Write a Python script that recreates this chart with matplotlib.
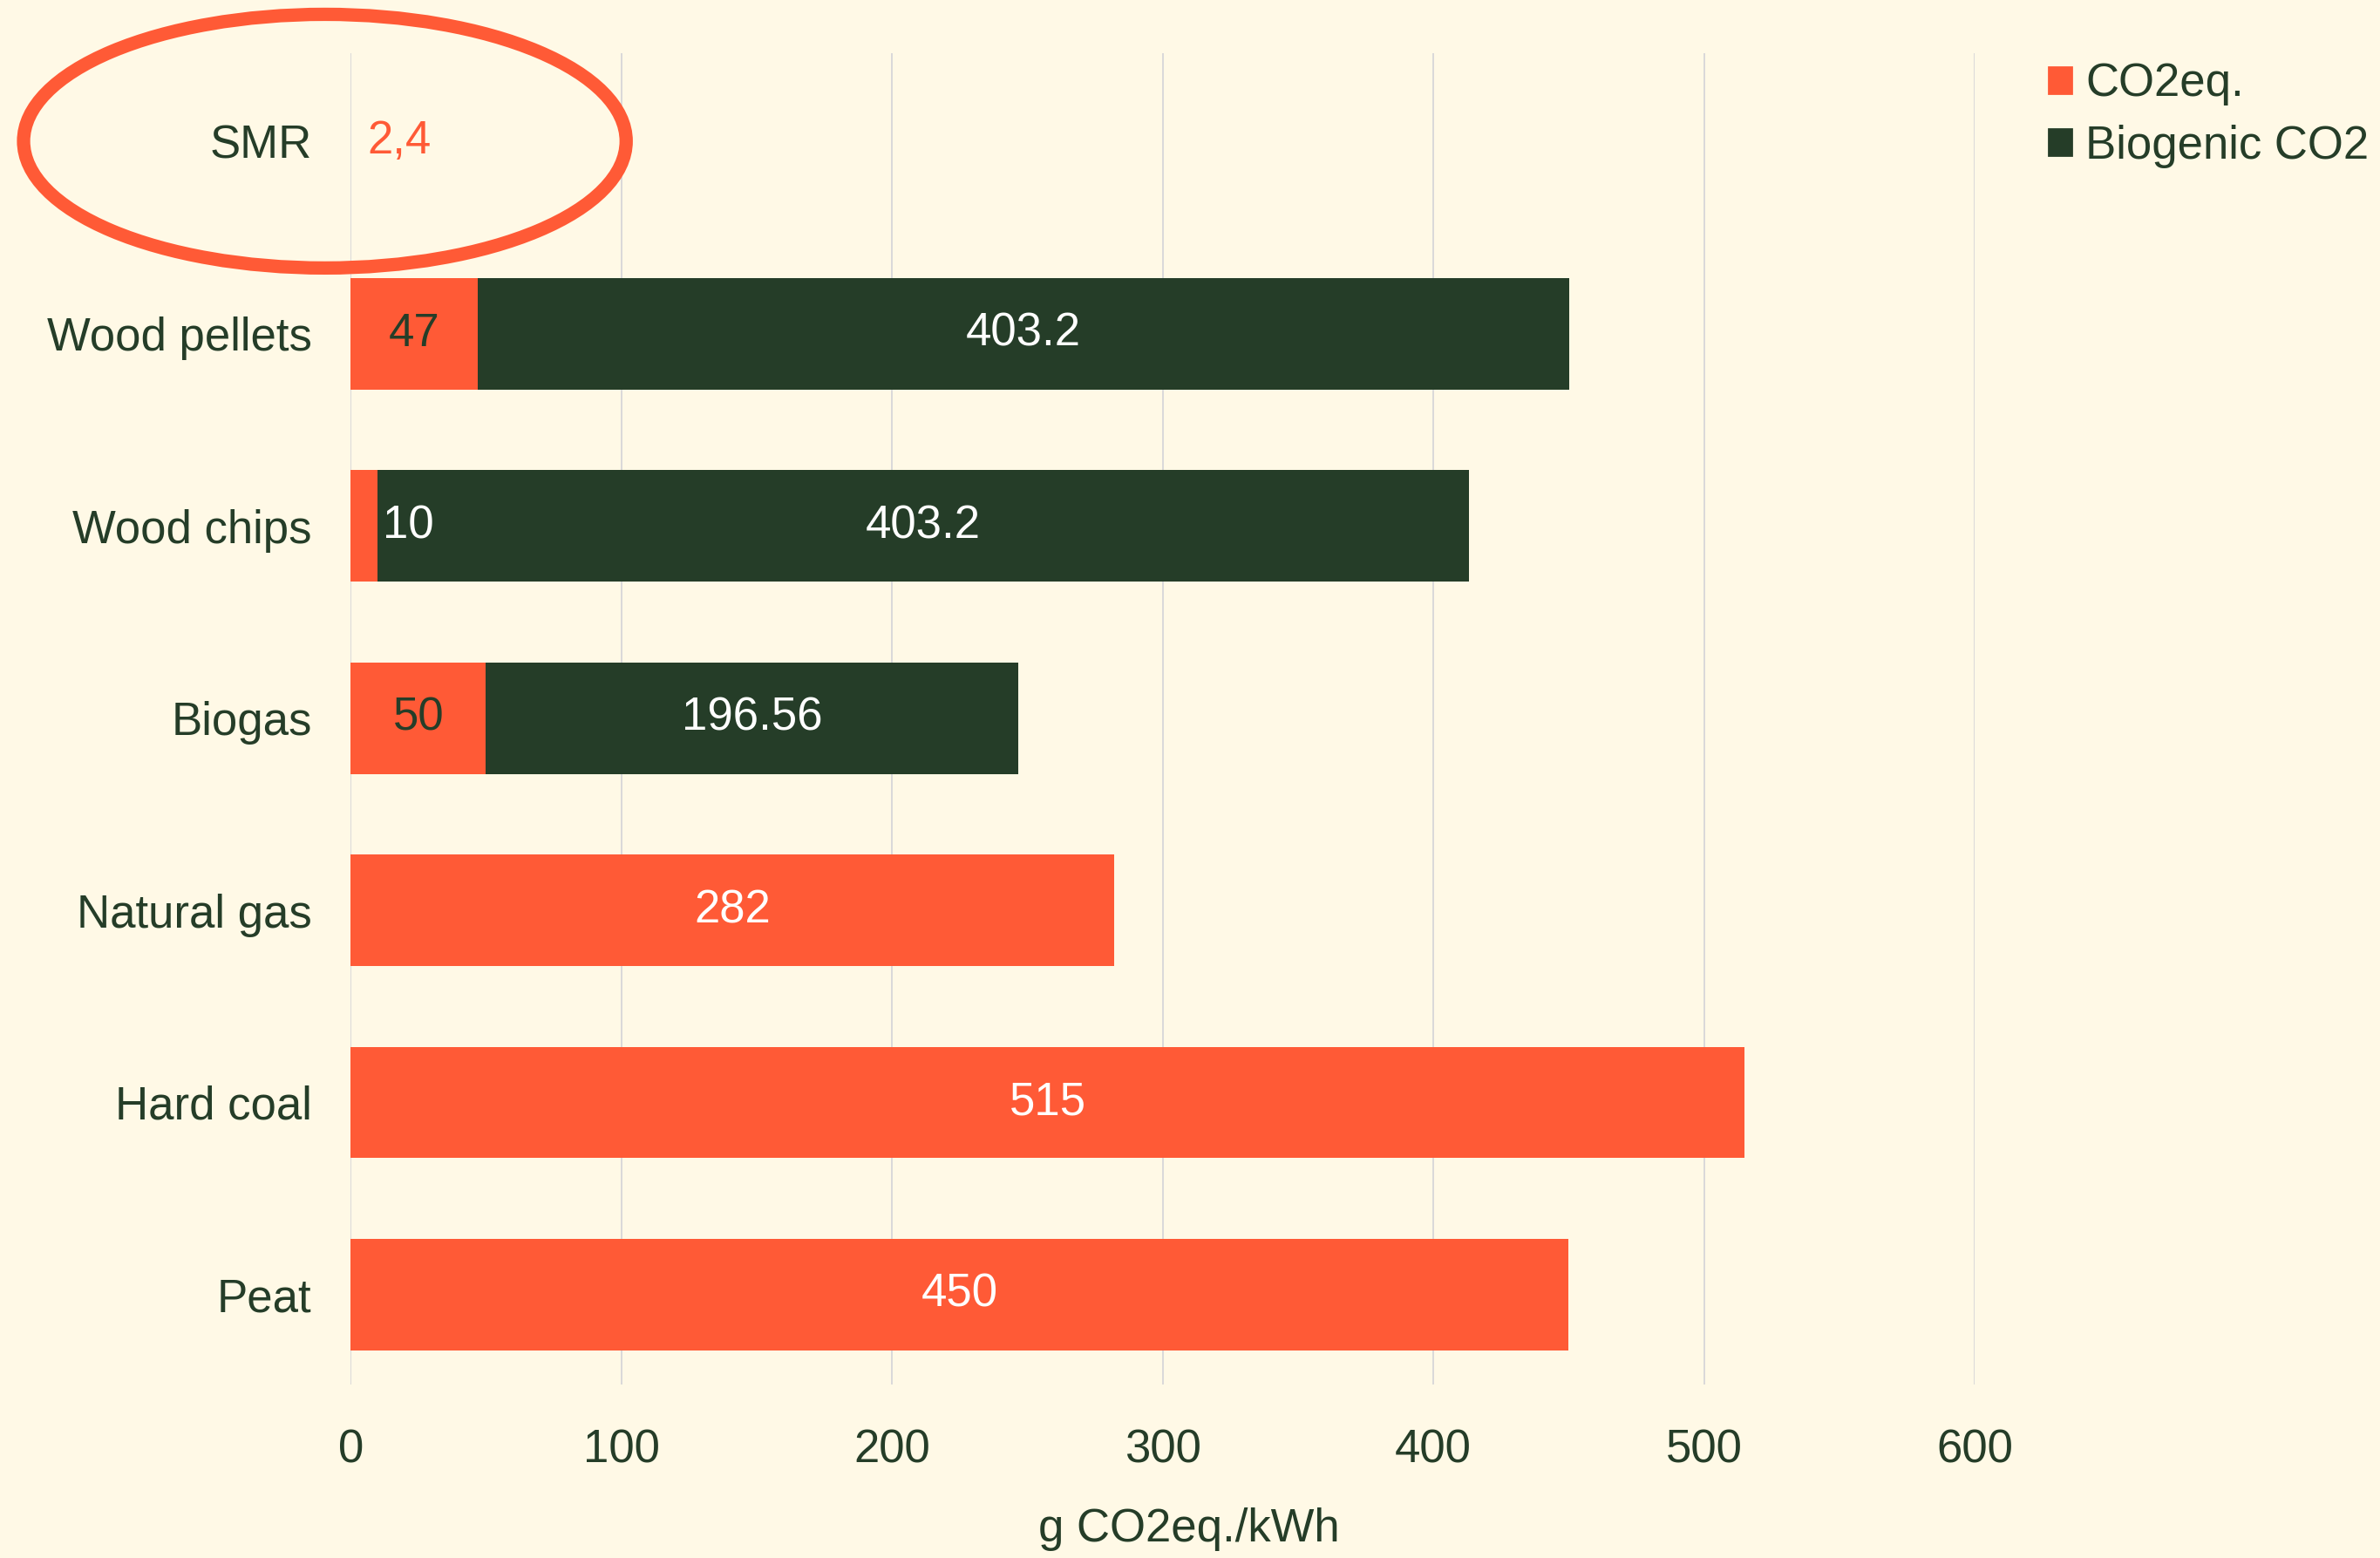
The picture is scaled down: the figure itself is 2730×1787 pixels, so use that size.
import matplotlib
matplotlib.use('Agg')
import matplotlib.pyplot as plt
from matplotlib.patches import Ellipse, Patch
import numpy as np

# data, top row first
categories = ['SMR', 'Wood pellets', 'Wood chips', 'Biogas', 'Natural gas', 'Hard coal', 'Peat']
co2eq = [0, 47, 10, 50, 282, 515, 450]
biogenic = [0, 403.2, 403.2, 196.56, 0, 0, 0]
co2eq_labels = ['2,4', '47', '10', '50', '282', '515', '450']
bio_labels = ['', '403.2', '403.2', '196.56', '', '', '']
xticks = [0, 100, 200, 300, 400, 500, 600]

bg = '#FFF9E6'
orange = '#FF5A36'
green = '#253D28'

plt.rcParams['font.family'] = ['Liberation Sans', 'DejaVu Sans']
plt.rcParams['font.size'] = 19

fig = plt.figure(figsize=(13.65, 8.935), dpi=200, facecolor=bg)
ax = fig.add_axes([0.1473, 0.1111, 0.8297 - 0.1473, 0.9659 - 0.1111])
ax.set_facecolor(bg)

y = np.arange(len(categories))[::-1]  # SMR on top
h = 0.58
b1 = ax.barh(y, co2eq, height=h, color=orange, label='CO2eq.', zorder=3)
b2 = ax.barh(y, biogenic, left=co2eq, height=h, color=green, label='Biogenic CO2', zorder=3)

# labels for the CO2eq. segments
for i, (v, lab) in enumerate(zip(co2eq, co2eq_labels)):
    if categories[i] == 'SMR':
        ax.annotate(lab, (0, y[i]), xytext=(7, 0), textcoords='offset points',
                    ha='left', va='center', color=orange, zorder=4)
    elif v < 20:
        ax.annotate(lab, (v, y[i]), xytext=(2, 0), textcoords='offset points',
                    ha='left', va='center', color='white', zorder=4)
    elif biogenic[i] > 0:
        ax.text(v / 2, y[i], lab, ha='center', va='center', color=green, zorder=4)
    else:
        ax.text(v / 2, y[i], lab, ha='center', va='center', color='white', zorder=4)

for i, lab in enumerate(bio_labels):
    if lab:
        ax.text(co2eq[i] + biogenic[i] / 2, y[i], lab, ha='center', va='center',
                color='white', zorder=4)

ax.set_xlim(0, 600)
ax.set_ylim(-0.47, 6.46)
ax.set_xticks(xticks)
ax.set_yticks(y)
ax.set_yticklabels(categories)
ax.tick_params(axis='both', length=0, colors=green, labelsize=19)
ax.tick_params(axis='x', pad=18)
ax.tick_params(axis='y', pad=16)
ax.grid(axis='x', color='#D9D9D9', lw=0.7, zorder=0)
ax.set_axisbelow(True)
for s in ax.spines.values():
    s.set_visible(False)

fig.text(0.4994, 0.0185, 'g CO2eq./kWh', ha='center', va='center', color=green, fontsize=19)

# highlight ring round SMR
ring = Ellipse((0.1365, 0.9094), 0.2532, 0.1628, transform=fig.transFigure,
               fill=False, ec=orange, lw=5.5, zorder=10)
fig.patches.append(ring)

handles = [Patch(color=orange, label='CO2eq.'), Patch(color=green, label='Biogenic CO2')]
fig.legend(handles=handles, loc='upper left', bbox_to_anchor=(0.8608, 0.96),
           frameon=False, fontsize=19, handlelength=0.5, handleheight=0.5,
           handletextpad=0.3, labelspacing=0.4, borderpad=0, borderaxespad=0,
           labelcolor=green)

fig.savefig('out.png', dpi=200, facecolor=bg)
